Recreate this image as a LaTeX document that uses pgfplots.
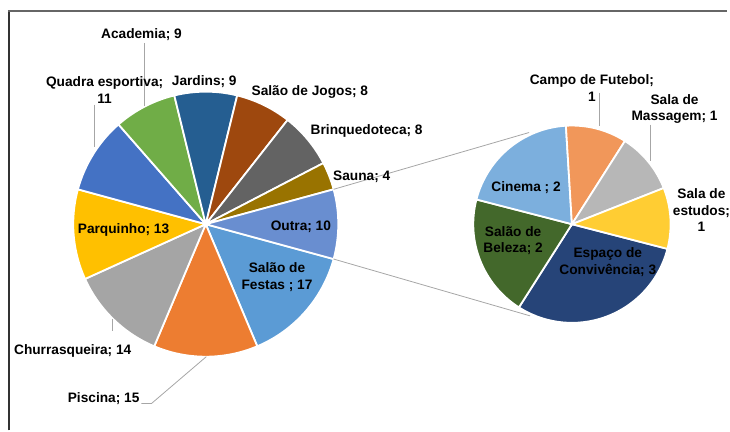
\documentclass[border=0pt]{standalone}
\usepackage{pgfplots}
\usepackage{pgfplotstable}
\pgfplotsset{compat=1.18}
\usepackage{fontspec}
\setmainfont{Liberation Sans}

% main pie colours (Excel order)
\definecolor{mc0}{HTML}{5B9BD5}
\definecolor{mc1}{HTML}{ED7D31}
\definecolor{mc2}{HTML}{A5A5A5}
\definecolor{mc3}{HTML}{FFC000}
\definecolor{mc4}{HTML}{4472C4}
\definecolor{mc5}{HTML}{70AD47}
\definecolor{mc6}{HTML}{255E91}
\definecolor{mc7}{HTML}{9E480E}
\definecolor{mc8}{HTML}{636363}
\definecolor{mc9}{HTML}{997300}
\definecolor{mc10}{HTML}{698ED0}
% second pie colours
\definecolor{sc0}{HTML}{264478}
\definecolor{sc1}{HTML}{43682B}
\definecolor{sc2}{HTML}{7CAFDD}
\definecolor{sc3}{HTML}{F1975A}
\definecolor{sc4}{HTML}{B7B7B7}
\definecolor{sc5}{HTML}{FFCD33}

% Salao de Festas, Piscina, Churrasqueira, Parquinho, Quadra, Academia,
% Jardins, Salao de Jogos, Brinquedoteca, Sauna, Outra
\pgfplotstableread{
value
17
15
14
13
11
9
9
8
8
4
10
}\maindata
% Convivencia, Beleza, Cinema, Campo, Massagem, Estudos
\pgfplotstableread{
value
3
2
2
1
1
1
}\subdata

% #1 table, #2 colour prefix, #3 start angle expr, #4 centre x, #5 centre y, #6 radius, #7 result macro
\newcommand\computepie[7]{%
  \gdef\pietot{0}%
  \pgfplotstableforeachcolumnelement{value}\of#1\as\pv{%
    \pgfmathparse{\pietot+\pv}\xdef\pietot{\pgfmathresult}}%
  \pgfmathparse{#3}\xdef\piecur{\pgfmathresult}%
  \gdef#7{}%
  \pgfplotstableforeachcolumnelement{value}\of#1\as\pv{%
    \pgfmathparse{\piecur-360*\pv/\pietot}\let\pienext\pgfmathresult
    \xdef#7{\unexpanded\expandafter{#7}\noexpand\fill[#2\pgfplotstablerow, draw=white, line width=1.8bp]
      (axis cs:#4,#5) -- ++(\piecur:#6bp) arc[start angle=\piecur, end angle=\pienext, radius=#6bp] -- cycle;}%
    \xdef\lastS{\piecur}\xdef\lastE{\pienext}%
    \xdef\piecur{\pienext}}%
}
\pgfplotstablegetelem{10}{value}\of\maindata
\xdef\outraval{\pgfplotsretval}
\computepie{\maindata}{mc}{-180*\outraval/\pietot}{206.5}{207}{133}{\mainpaths}
\xdef\outraS{\lastS}\xdef\outraE{\lastE}
\computepie{\subdata}{sc}{-14.5}{574}{207}{99}{\subpaths}

\tikzset{lbl/.style={font=\fontsize{13.8}{16.5}\selectfont\bfseries, align=center, inner sep=0pt, text=black},
  ldr/.style={draw=black!35, line width=0.8bp}}

\begin{document}
\begin{tikzpicture}
\begin{axis}[width=730bp, height=432bp, scale only axis,
  xmin=0, xmax=730, ymin=0, ymax=432, hide axis, clip=false]
\path (axis cs:0,0) (axis cs:730,432);
% frame
\draw[black!80, line width=1.3bp] (axis cs:9,0) -- (axis cs:9,421);
\draw[black!60, line width=1.3bp] (axis cs:8,421) -- (axis cs:730,421);
% pies
\mainpaths
\subpaths
% connector lines
\draw[ldr] (axis cs:206.5,207) ++(\outraS:133bp) -- (axis cs:531,299);
\draw[ldr] (axis cs:206.5,207) ++(\outraE:133bp) -- (axis cs:532,115);
% leader lines
\draw[ldr] (axis cs:145,389) -- (axis cs:145,326);
\draw[ldr] (axis cs:95,327) -- (axis cs:95,284);
\draw[ldr] (axis cs:113,100) -- (axis cs:113,112);
\draw[ldr] (axis cs:142,27) -- (axis cs:152,27) -- (axis cs:207,74);
\draw[ldr] (axis cs:602,339) -- (axis cs:602,306);
\draw[ldr] (axis cs:653,307) -- (axis cs:653,270);
% labels main
\node[lbl] at (axis cs:142,397) {Academia; 9};
\node[lbl] at (axis cs:105,341.5) {Quadra esportiva;\\11};
\node[lbl] at (axis cs:205,350) {Jardins; 9};
\node[lbl] at (axis cs:311,340) {Salão de Jogos; 8};
\node[lbl] at (axis cs:368,301) {Brinquedoteca; 8};
\node[lbl] at (axis cs:363,255) {Sauna; 4};
\node[lbl] at (axis cs:302,204) {Outra; 10};
\node[lbl] at (axis cs:278,154) {Salão de\\Festas ; 17};
\node[lbl] at (axis cs:124,201) {Parquinho; 13};
\node[lbl] at (axis cs:73,80) {Churrasqueira; 14};
\node[lbl] at (axis cs:104,32) {Piscina; 15};
% labels second
\node[lbl] at (axis cs:594,343.5) {Campo de Futebol;\\1};
\node[lbl] at (axis cs:677,322.5) {Sala de\\Massagem; 1};
\node[lbl] at (axis cs:704,221) {Sala de\\estudos;\\1};
\node[lbl] at (axis cs:528,244) {Cinema ; 2};
\node[lbl] at (axis cs:515,190.5) {Salão de\\Beleza; 2};
\node[lbl] at (axis cs:610,169) {Espaço de\\Convivência; 3};
\end{axis}
\end{tikzpicture}
\end{document}
